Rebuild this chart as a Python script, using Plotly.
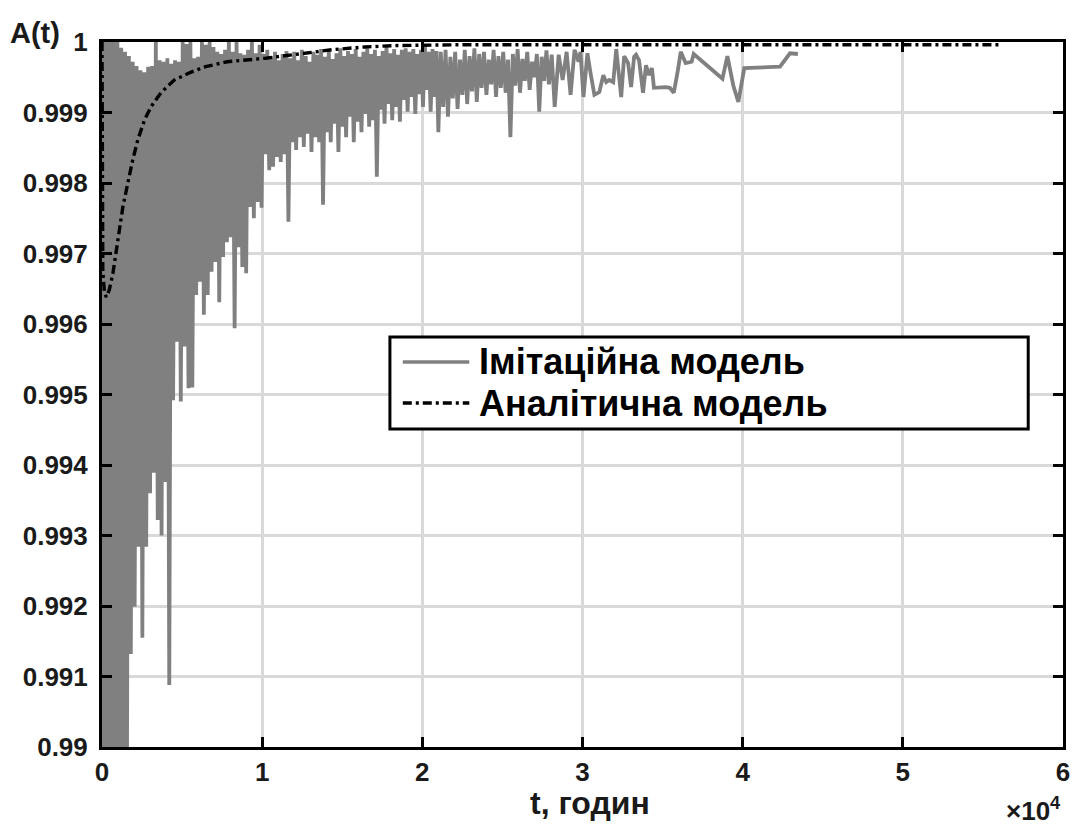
import plotly.graph_objects as go

# ---- simulation model: availability A(t) vs time t (hours) ----
sim_t_early = [
    0, 120, 240, 360, 480, 600, 720, 840, 960, 1080,
    1200, 1320, 1440, 1560, 1680, 1800, 1920, 2040, 2160, 2280,
    2400, 2520, 2640, 2760, 2880, 3000, 3120, 3240, 3360, 3480,
    3600, 3720, 3840, 3960, 4080, 4200, 4320, 4440, 4560, 4680,
    4800, 4920, 5040, 5160, 5280, 5400, 5520, 5640, 5760, 5880,
    6000, 6120, 6240, 6360, 6480, 6600, 6720, 6840, 6960, 7080,
    7200, 7320, 7440, 7560, 7680, 7800, 7920, 8040, 8160, 8280,
    8400, 8520, 8640, 8760, 8880, 9000, 9120, 9240, 9360, 9480,
    9600, 9720, 9840, 9960, 10080, 10200, 10320, 10440, 10560, 10680,
    10800, 10920, 11040, 11160, 11280, 11400, 11520, 11640, 11760, 11880,
    12000, 12120, 12240, 12360, 12480, 12600, 12720, 12840, 12960, 13080,
    13200, 13320, 13440, 13560, 13680, 13800, 13920, 14040, 14160, 14280,
    14400, 14520, 14640, 14760, 14880, 15000, 15120, 15240, 15360, 15480,
    15600, 15720, 15840, 15960, 16080, 16200, 16320, 16440, 16560, 16680,
    16800, 16920, 17040, 17160, 17280, 17400, 17520, 17640, 17760, 17880,
    18000, 18120, 18240, 18360, 18480, 18600, 18720, 18840, 18960, 19080,
    19200, 19320, 19440, 19560, 19680, 19800, 19920, 20040, 20160, 20280,
    20400, 20520, 20640, 20760, 20880, 21000,
]
sim_a_early = [
    1.0, 0.9896, 1.0, 0.9895, 1.0, 0.9897, 1.0, 0.9896, 1.0, 0.9895,
    0.99992, 0.9897, 0.99986, 0.9898, 0.9998, 0.99132, 0.99972, 0.99199, 0.99966, 0.99284,
    0.9996, 0.99155, 0.99957, 0.99284, 0.99965, 0.9936, 0.99966, 0.99389, 1.0, 0.99322,
    0.99974, 0.993, 0.99972, 0.99376, 0.99977, 0.99088, 0.99969, 0.99492, 0.99974, 0.99575,
    0.99972, 0.9949, 1.0, 0.99568, 0.99997, 0.99509, 1.0, 0.9951, 0.99977, 0.99641,
    0.99979, 0.9966, 1.0, 0.99613, 0.99996, 0.99641, 1.0, 0.99674, 0.99993, 0.99688,
    0.99986, 0.99631, 0.99983, 0.99695, 0.99989, 0.99716, 1.0, 0.99723, 0.99986, 0.99594,
    1.0, 0.99709, 0.99984, 0.99681, 0.99982, 0.99672, 0.99989, 0.99766, 1.0, 0.9975,
    0.99984, 0.99773, 0.99996, 0.99765, 0.99983, 0.99841, 0.99989, 0.99818, 0.9998, 0.99823,
    0.99986, 0.99837, 0.99974, 0.9983, 0.99983, 0.99841, 0.99987, 0.99745, 0.99977, 0.99858,
    0.99986, 0.99847, 0.99974, 0.99865, 0.99989, 0.99851, 0.9998, 0.9987, 0.99972, 0.99844,
    0.99986, 0.99865, 0.99982, 0.99858, 0.9999, 0.99769, 0.99979, 0.99872, 0.99987, 0.99858,
    0.99976, 0.99884, 0.99984, 0.99844, 0.99991, 0.9988, 0.9998, 0.99865, 0.99987, 0.99894,
    0.99983, 0.99858, 0.9999, 0.99887, 0.99979, 0.99872, 0.99986, 0.99898, 0.99991, 0.9988,
    0.99983, 0.99889, 0.99989, 0.99809, 0.9998, 0.99904, 0.99987, 0.99884, 0.99993, 0.99912,
    0.99984, 0.99889, 0.9999, 0.99908, 0.99982, 0.99887, 0.99989, 0.99918, 0.99991, 0.99901,
    0.99986, 0.99922, 0.9999, 0.99898, 0.99983, 0.99926, 0.99989, 0.99908, 0.99993, 0.99932,
    0.99986, 0.99901, 0.9999, 0.99922, 0.99987, 0.99872,
]
sim_t_mid = [
    21150, 21300, 21450, 21600, 21750, 21900, 22050, 22200, 22350, 22500,
    22650, 22800, 22950, 23100, 23250, 23400, 23550, 23700, 23850, 24000,
    24150, 24300, 24450, 24600, 24750, 24900, 25050, 25200, 25350, 25500,
    25650, 25800, 25950, 26100, 26250, 26400, 26550, 26700, 26850, 27000,
    27150, 27300, 27450, 27600, 27750, 27900,
]
sim_a_mid = [
    0.99986, 0.99908, 0.99989, 0.99894, 0.99979, 0.9992, 0.99986, 0.99905, 0.99975, 0.99925,
    0.99989, 0.99912, 0.9998, 0.9993, 0.99991, 0.99915, 0.99983, 0.99935, 0.99986, 0.99925,
    0.99975, 0.9994, 0.99989, 0.99922, 0.9998, 0.99935, 0.99986, 0.99928, 0.99975, 0.99865,
    0.99983, 0.99938, 0.9999, 0.99928, 0.99976, 0.99945, 0.99986, 0.99932, 0.99972, 0.9995,
    0.99983, 0.99901, 0.99979, 0.99945, 0.99988, 0.9994,
]
sim_t_late = [
    28078, 28264, 28512, 28760, 29008, 29256, 29504, 29752, 29874, 30060,
    30308, 30494, 30742, 31052, 31300, 31486, 31672, 31920, 32106, 32416,
    32601, 32849, 33035, 33221, 33345, 33531, 33779, 33965, 34151, 34337,
    34461, 35205, 35453, 35700, 35948, 36134, 36444, 36816, 36940, 38738,
    39047, 39419, 39729, 40101, 42332, 42952, 43448,
]
sim_a_late = [
    0.99982, 0.99908, 0.99982, 0.99946, 0.99986, 0.99925, 0.99989, 0.99972, 0.99986, 0.99922,
    0.99984, 0.99957, 0.99925, 0.99929, 0.99953, 0.99943, 0.99946, 0.99943, 0.9999, 0.99922,
    0.9998, 0.9997, 0.99936, 0.99979, 0.99982, 0.99974, 0.99928, 0.99967, 0.99953, 0.99963,
    0.99935, 0.99936, 0.99935, 0.99928, 0.99959, 0.99986, 0.9997, 0.99972, 0.99983, 0.99948,
    0.9998, 0.99938, 0.99915, 0.99963, 0.99965, 0.99984, 0.99983,
]

# ---- analytical model ----
ana_t = [0, 50, 150, 267, 450, 682, 992, 1302, 1612, 1922, 2232, 2647, 3057, 3677,
         4507, 5537, 6467, 7810, 10210, 12300, 14340, 16400, 18470, 22000, 28000,
         35000, 42000, 49000, 56000]
ana_a = [1.0, 0.99675, 0.99645, 0.99638, 0.99648, 0.99672, 0.99719, 0.99766, 0.998,
         0.99833, 0.99861, 0.99889, 0.99908, 0.99928, 0.99946, 0.99957, 0.99965,
         0.99972, 0.99977, 0.99983, 0.99989, 0.99993, 0.99995, 0.99996, 0.99996,
         0.99996, 0.99996, 0.99996, 0.99996]

# ---- axes ticks and labels ----
x_tickvals = [0, 10000, 20000, 30000, 40000, 50000, 60000]
x_ticktext = ["0", "1", "2", "3", "4", "5", "6"]
y_tickvals = [0.99, 0.991, 0.992, 0.993, 0.994, 0.995, 0.996, 0.997, 0.998, 0.999, 1.0]
y_ticktext = ["0.99", "0.991", "0.992", "0.993", "0.994", "0.995", "0.996",
              "0.997", "0.998", "0.999", "1"]
series_names = ["Імітаційна модель", "Аналітична модель"]

sim_t = sim_t_early + sim_t_mid + sim_t_late
sim_a = sim_a_early + sim_a_mid + sim_a_late

FONT = "Liberation Sans, Arial, Helvetica, sans-serif"
TEXT_COLOR = "#1a1a1a"
SIM_COLOR = "#808080"
SIM_WIDTH = 3.8
ANA_DASH = "9px,4px,3px,4px"

fig = go.Figure()
fig.add_trace(go.Scatter(
    x=sim_t, y=sim_a, mode="lines", name=series_names[0],
    line=dict(color=SIM_COLOR, width=SIM_WIDTH, simplify=False), showlegend=False,
))
fig.add_trace(go.Scatter(
    x=ana_t, y=ana_a, mode="lines", name=series_names[1],
    line=dict(color="black", width=3.4, dash=ANA_DASH, simplify=False),
    showlegend=False,
))

axis_common = dict(
    showgrid=True, gridcolor="#d9d9d9", gridwidth=2.5,
    showline=True, linecolor="black", linewidth=3, mirror="ticks",
    ticks="inside", ticklen=10, tickwidth=3, tickcolor="black",
    zeroline=False,
    tickfont=dict(family=FONT, size=26, color=TEXT_COLOR, weight="bold"),
)

fig.update_xaxes(
    range=[0, 60000], tickvals=x_tickvals, ticktext=x_ticktext,
    ticklabelstandoff=0,
    **axis_common,
)
fig.update_yaxes(
    range=[0.99, 1.0], tickvals=y_tickvals, ticktext=y_ticktext,
    ticklabelstandoff=6,
    **axis_common,
)

# ---- legend box drawn in plot-paper coordinates ----
leg_x0, leg_x1 = 0.2996, 0.9638
leg_y0, leg_y1 = 0.4511, 0.5816
sample_x0, sample_x1 = 0.3130, 0.3822
row_y = [0.5461, 0.4879]
shapes = [
    dict(type="rect", xref="paper", yref="paper", x0=leg_x0, x1=leg_x1,
         y0=leg_y0, y1=leg_y1, line=dict(color="black", width=3),
         fillcolor="white", layer="above"),
    dict(type="line", xref="paper", yref="paper", x0=sample_x0, x1=sample_x1,
         y0=row_y[0], y1=row_y[0], line=dict(color=SIM_COLOR, width=3.4)),
    dict(type="line", xref="paper", yref="paper", x0=sample_x0, x1=sample_x1,
         y0=row_y[1], y1=row_y[1], line=dict(color="black", width=3.4, dash=ANA_DASH)),
]
annotations = [
    dict(xref="paper", yref="paper", x=0.3905, y=row_y[0], xanchor="left",
         yanchor="middle", text=series_names[0], showarrow=False,
         font=dict(family=FONT, size=36, color="black", weight="bold")),
    dict(xref="paper", yref="paper", x=0.3905, y=row_y[1], xanchor="left",
         yanchor="middle", text=series_names[1], showarrow=False,
         font=dict(family=FONT, size=36, color="black", weight="bold")),
    # y-axis label at top-left corner
    dict(xref="paper", yref="paper", x=-0.098, y=1.0128, xanchor="left",
         yanchor="middle", text="A(t)", showarrow=False,
         font=dict(family=FONT, size=29, color=TEXT_COLOR, weight="bold")),
    # x-axis label
    dict(xref="paper", yref="paper", x=0.5083, y=-0.0800, xanchor="center",
         yanchor="middle", text="t, годин", showarrow=False,
         font=dict(family=FONT, size=32, color=TEXT_COLOR, weight="bold")),
    # x-axis scale factor
    dict(xref="paper", yref="paper", x=1.0, y=-0.0880, xanchor="right",
         yanchor="middle", text="×10<sup>4</sup>", showarrow=False,
         font=dict(family=FONT, size=26, color=TEXT_COLOR, weight="bold")),
]

fig.update_layout(
    width=1078, height=826,
    margin=dict(l=102, r=8, t=42, b=79),
    paper_bgcolor="white", plot_bgcolor="white",
    shapes=shapes, annotations=annotations,
    showlegend=False,
)

fig.write_html("out.html")
